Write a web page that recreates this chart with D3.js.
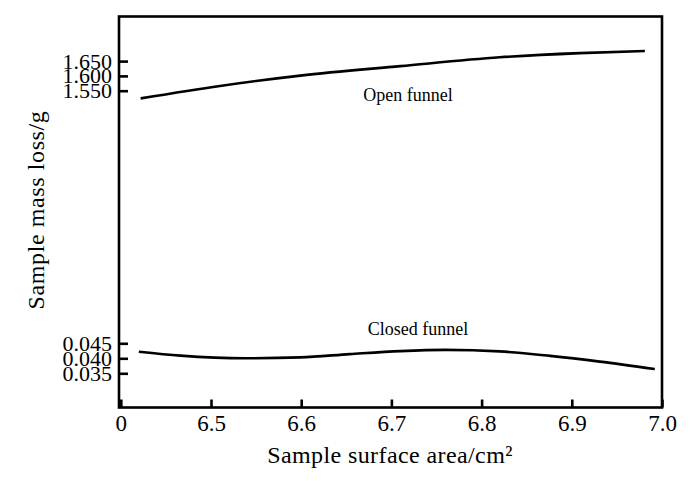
<!DOCTYPE html>
<html>
<head>
<meta charset="utf-8">
<script src="https://cdn.jsdelivr.net/npm/d3@7"></script>
<style>
  html, body { margin: 0; padding: 0; background: #fff; }
  svg { display: block; }
</style>
</head>
<body>
<svg id="chart" width="700" height="481"></svg>
<script>
// ---- data ----
const openX = [6.422, 6.510, 6.599, 6.710, 6.820, 6.909, 6.981];
const openY = [1.524, 1.566, 1.601, 1.633, 1.663, 1.677, 1.684];
const closedX = [6.420, 6.466, 6.538, 6.599, 6.654, 6.710, 6.760, 6.820, 6.876, 6.931, 6.992];
const closedY = [0.0422, 0.0409, 0.0400, 0.0403, 0.0414, 0.0424, 0.0428, 0.0423, 0.0408, 0.0389, 0.0364];
const xTicks = [6.4, 6.5, 6.6, 6.7, 6.8, 6.9, 7.0];
const xTickLabels = ["0", "6.5", "6.6", "6.7", "6.8", "6.9", "7.0"];
const yUpperTicks = [1.550, 1.600, 1.650];
const yLowerTicks = [0.035, 0.040, 0.045];
const seriesLabels = ["Open funnel", "Closed funnel"];
const xTitle = "Sample surface area/cm\u00B2";
const yTitle = "Sample mass loss/g";

// ---- layout ----
const FONT = "'Liberation Serif', 'Times New Roman', Times, 'DejaVu Serif', serif";
const L = 119, R = 662, T = 16.5, B = 407.5;
const svg = d3.select("#chart").attr("font-family", FONT);

const x = d3.scaleLinear().domain([6.4, 7.0]).range([120.8, 662]);
const yUp = d3.scaleLinear().domain([1.55, 1.65]).range([90.7, 61.1]);
const yLo = d3.scaleLinear().domain([0.035, 0.045]).range([373.3, 343.3]);

// frame
svg.append("rect")
  .attr("x", L).attr("y", T).attr("width", R - L).attr("height", B - T)
  .attr("fill", "none").attr("stroke", "#000").attr("stroke-width", 2.6);

// x axis
const xAxis = d3.axisBottom(x)
  .tickValues(xTicks)
  .tickFormat((d, i) => xTickLabels[i])
  .tickSizeInner(-8).tickSizeOuter(0).tickPadding(7);
const gx = svg.append("g").attr("transform", `translate(0,${B})`).call(xAxis)
  .attr("font-family", FONT).attr("font-size", 23);
gx.select(".domain").remove();
gx.selectAll(".tick line").attr("stroke", "#000").attr("stroke-width", 2.6);
gx.selectAll(".tick text").attr("fill", "#000");

// y axes (broken)
function yAxisFor(scale, ticks) {
  const ax = d3.axisLeft(scale).tickValues(ticks).tickFormat(d3.format(".3f"))
    .tickSizeInner(-9).tickSizeOuter(0).tickPadding(7);
  const g = svg.append("g").attr("transform", `translate(${L},0)`).call(ax)
    .attr("font-family", FONT).attr("font-size", 22);
  g.select(".domain").remove();
  g.selectAll(".tick line").attr("stroke", "#000").attr("stroke-width", 2.6);
  g.selectAll(".tick text").attr("fill", "#000");
}
yAxisFor(yUp, yUpperTicks);
yAxisFor(yLo, yLowerTicks);

// lines
const lineUp = d3.line().x(d => x(d[0])).y(d => yUp(d[1])).curve(d3.curveMonotoneX);
const lineLo = d3.line().x(d => x(d[0])).y(d => yLo(d[1])).curve(d3.curveMonotoneX);
svg.append("path").datum(openX.map((v, i) => [v, openY[i]]))
  .attr("d", lineUp).attr("fill", "none").attr("stroke", "#000").attr("stroke-width", 2.6);
svg.append("path").datum(closedX.map((v, i) => [v, closedY[i]]))
  .attr("d", lineLo).attr("fill", "none").attr("stroke", "#000").attr("stroke-width", 2.6);

// series labels
svg.append("text").attr("x", 408).attr("y", 101).attr("text-anchor", "middle")
  .attr("font-size", 18).text(seriesLabels[0]);
svg.append("text").attr("x", 418).attr("y", 335).attr("text-anchor", "middle")
  .attr("font-size", 18).text(seriesLabels[1]);

// axis titles
svg.append("text").attr("x", 390).attr("y", 463).attr("text-anchor", "middle")
  .attr("font-size", 24).attr("letter-spacing", 0.4).text(xTitle);
svg.append("text").attr("transform", "translate(44,210) rotate(-90)").attr("text-anchor", "middle")
  .attr("font-size", 24).attr("letter-spacing", 0.6).text(yTitle);
</script>
</body>
</html>
